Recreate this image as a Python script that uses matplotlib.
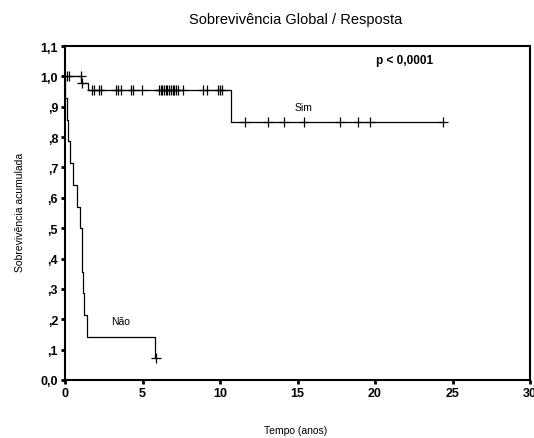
import matplotlib
matplotlib.use("Agg")
import matplotlib.pyplot as plt

# curva "Sim" (resposta): tempos de evento e sobrevivencia apos cada degrau
sim_t = [0.0, 1.0, 1.5, 10.7, 24.37]
sim_s = [1.0, 0.978, 0.955, 0.85, 0.85]
sim_cens_t = [0.13, 0.26, 1.05, 1.1,
              1.76, 1.85, 2.19, 2.32, 3.29, 3.44, 3.61, 4.26, 4.36, 4.99,
              6.06, 6.17, 6.28, 6.39, 6.49, 6.6, 6.71, 6.84, 6.95, 7.03,
              7.16, 7.31, 7.59, 8.92, 9.14, 9.89, 10.0, 10.15,
              11.61, 13.12, 14.15, 15.44, 17.74, 18.88, 19.68, 24.37]
sim_cens_s = [1.0, 1.0, 1.0, 0.978] + [0.955] * 28 + [0.85] * 8

# curva "Nao"
nao_t = [0.0, 0.03, 0.1, 0.21, 0.32, 0.54, 0.75, 0.97, 1.08, 1.18, 1.25, 1.44, 5.81, 5.87]
nao_s = [1.0, 0.929, 0.857, 0.786, 0.714, 0.643, 0.571, 0.5, 0.357, 0.286, 0.214, 0.143,
         0.071, 0.071]
nao_cens_t = [5.87]
nao_cens_s = [0.071]

xticks = [0, 5, 10, 15, 20, 25, 30]
yticks = [0.0, 0.1, 0.2, 0.3, 0.4, 0.5, 0.6, 0.7, 0.8, 0.9, 1.0, 1.1]
ytick_labels = ["0,0", ",1", ",2", ",3", ",4", ",5", ",6", ",7", ",8", ",9", "1,0", "1,1"]

fam = ["Liberation Sans Narrow", "Liberation Sans", "DejaVu Sans"]
plt.rcParams["font.family"] = ["Liberation Sans", "DejaVu Sans"]

fig = plt.figure(figsize=(5.34, 4.39), dpi=100)
ax = fig.add_axes([65 / 534, 1 - 381 / 439, 465 / 534, 334 / 439])

ax.step(sim_t, sim_s, where="post", color="black", lw=0.9)
ax.plot(sim_cens_t, sim_cens_s, "+", color="black", ms=7, mew=0.9)
ax.step(nao_t, nao_s, where="post", color="black", lw=0.9)
ax.plot(nao_cens_t, nao_cens_s, "+", color="black", ms=7, mew=0.9)

ax.set_xlim(0, 30)
ax.set_ylim(0, 1.1)
ax.set_xticks(xticks)
ax.set_yticks(yticks)
ax.set_yticklabels(ytick_labels)
for lab in ax.get_xticklabels() + ax.get_yticklabels():
    lab.set_fontweight("bold")
    lab.set_fontsize(9)
ax.tick_params(direction="out", length=3, width=2, pad=2)
for sp in ax.spines.values():
    sp.set_linewidth(1.5)

ax.text(15.4, 0.9, "Sim", fontsize=7.5, family=fam, ha="center", va="center")
ax.text(3.6, 0.195, "Não", fontsize=7.5, family=fam, ha="center", va="center")
fig.text(405 / 534, 1 - 61 / 439, "p < 0,0001", fontsize=8.5, fontweight="bold",
         ha="center", va="center")

fig.text(296 / 534, 1 - 20 / 439, "Sobrevivência Global / Resposta", fontsize=10.5,
         family=fam, ha="center", va="center")
fig.text(296 / 534, 1 - 431 / 439, "Tempo (anos)", fontsize=7.5, family=fam,
         ha="center", va="center")
fig.text(20 / 534, 1 - 212 / 439, "Sobrevivência acumulada", fontsize=7.5, family=fam,
         rotation=90, ha="center", va="center")

fig.savefig("out.png", dpi=100)
